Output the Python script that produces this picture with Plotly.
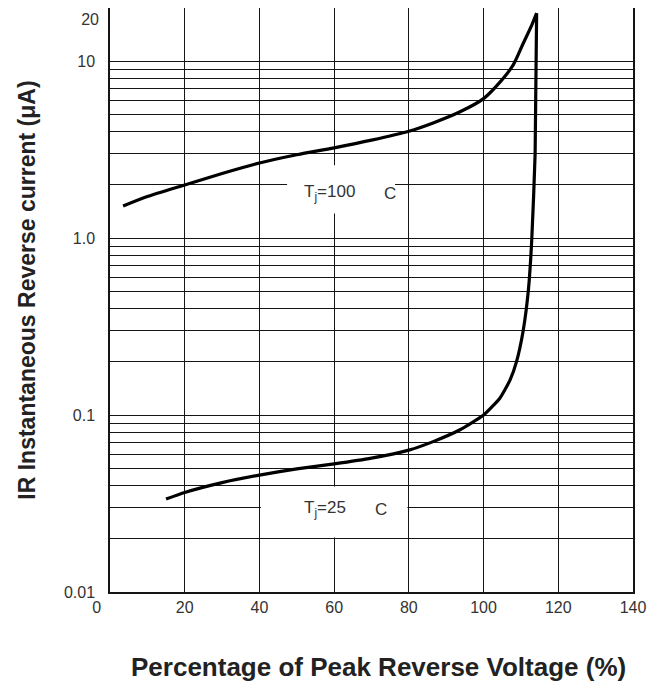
import math
import plotly.graph_objects as go

# ---- data ----
x_100c = [3.5, 10, 20, 30, 40, 50, 60, 70, 80, 86.5, 93.7, 100, 104.8, 107.9, 110.6, 112.9, 114.2]
y_100c = [1.52, 1.72, 2.0, 2.32, 2.66, 2.96, 3.24, 3.58, 4.02, 4.48, 5.18, 6.15, 7.8, 9.5, 12.6, 16.0, 18.7]

x_25c = [15, 20, 30, 40, 50, 60, 70, 80, 86.5, 93.7, 100, 104.4, 107.1, 108.8, 110.6, 112.0, 112.9, 113.8, 114.2]
y_25c = [0.0335, 0.0365, 0.0415, 0.0458, 0.0497, 0.053, 0.0571, 0.0634, 0.0708, 0.0826, 0.1, 0.125,
         0.158, 0.2, 0.30, 0.51, 0.98, 3.0, 18.7]

x_tick_vals = [0, 20, 40, 60, 80, 100, 120, 140]
x_tick_text = ["0\u00a0\u00a0\u00a0\u00a0\u00a0\u00a0", "20", "40", "60", "80", "100", "120", "140"]

y_label_vals = {0.01: "0.01", 0.1: "0.1", 1: "1.0", 10: "10"}
y_grid_vals = [m * d for d in (0.01, 0.1, 1) for m in range(1, 10)] + [10, 20]
y_top_val = [20]
y_top_text = ["20"]

label_100c = "T<sub>j</sub>=100"
label_25c = "T<sub>j</sub>=25"
label_unit = "C"

x_title = "Percentage of Peak Reverse Voltage (%)"
y_title = "IR Instantaneous Reverse current (μA)"

# ---- figure ----
FONT = "Liberation Sans, Arial, sans-serif"
INK = "#151515"
TXT = "#333333"
Y_RANGE = [-2, math.log10(20)]

fig = go.Figure()
fig.add_trace(go.Scatter(x=x_100c, y=y_100c, mode="lines",
                         line=dict(color="black", width=3.2, shape="spline", smoothing=0.8),
                         showlegend=False, hoverinfo="skip"))
fig.add_trace(go.Scatter(x=x_25c, y=y_25c, mode="lines",
                         line=dict(color="black", width=3.2, shape="spline", smoothing=0.5),
                         showlegend=False, hoverinfo="skip"))
# empty trace so the overlay axis carrying the top "20" label is drawn
fig.add_trace(go.Scatter(x=[], y=[], yaxis="y2", showlegend=False, hoverinfo="skip"))

y_text = [y_label_vals.get(v, "") for v in y_grid_vals]

# white label boxes hiding parts of the grid
fig.add_shape(type="rect", xref="x", yref="y", x0=47.4, x1=76.3, y0=1.38, y1=2.58,
              fillcolor="white", line=dict(width=0), layer="between")
fig.add_shape(type="rect", xref="x", yref="y", x0=40.4, x1=79.6, y0=0.0203, y1=0.0395,
              fillcolor="white", line=dict(width=0), layer="between")

lab_font = dict(family=FONT, size=17, color=TXT)
for txt, xv, yv in [(label_100c, 51.4, 1.80), (label_unit, 72.8, 1.80),
                    (label_25c, 51.4, 0.0294), (label_unit, 70.4, 0.0294)]:
    fig.add_annotation(x=xv, y=math.log10(yv), xref="x", yref="y", text=txt, showarrow=False,
                       xanchor="left", yanchor="middle", font=lab_font)

# axis titles
fig.add_annotation(xref="paper", yref="paper", x=0, y=0.516, xshift=-83, textangle=-90,
                   text=y_title, showarrow=False, xanchor="center", yanchor="middle",
                   font=dict(family=FONT, size=23, color="#222222", weight="bold"))
fig.add_annotation(xref="paper", yref="paper", x=0.514, y=-0.128, text=x_title, showarrow=False,
                   xanchor="center", yanchor="middle",
                   font=dict(family=FONT, size=26, color="#222222", weight="bold"))

fig.update_layout(
    width=650, height=676,
    margin=dict(l=102, r=25, t=0, b=92),
    paper_bgcolor="white", plot_bgcolor="white",
    font=dict(family=FONT, color=TXT),
    yaxis2=dict(overlaying="y", side="left", type="log", range=Y_RANGE,
                tickvals=y_top_val, ticktext=y_top_text, showgrid=False, showline=False,
                zeroline=False, ticks="", ticklabelposition="outside bottom", ticklabelstandoff=10,
                automargin=False, tickfont=dict(family=FONT, size=16, color=TXT)),
)
fig.update_xaxes(
    range=[0, 140], tickvals=x_tick_vals, ticktext=x_tick_text,
    showgrid=True, gridcolor=INK, gridwidth=1.3,
    showline=True, linecolor=INK, linewidth=1.5, mirror=True,
    ticks="", ticklabelstandoff=0, zeroline=False, automargin=False,
    tickfont=dict(family=FONT, size=16, color=TXT),
)
fig.layout.yaxis.update(
    type="log", range=Y_RANGE, tickvals=y_grid_vals, ticktext=y_text,
    showgrid=True, gridcolor=INK, gridwidth=1.3,
    showline=True, linecolor=INK, linewidth=1.5, mirror=True,
    ticks="", ticklabelstandoff=10, zeroline=False, automargin=False,
    tickfont=dict(family=FONT, size=16, color=TXT),
)

fig.write_html("out.html")
